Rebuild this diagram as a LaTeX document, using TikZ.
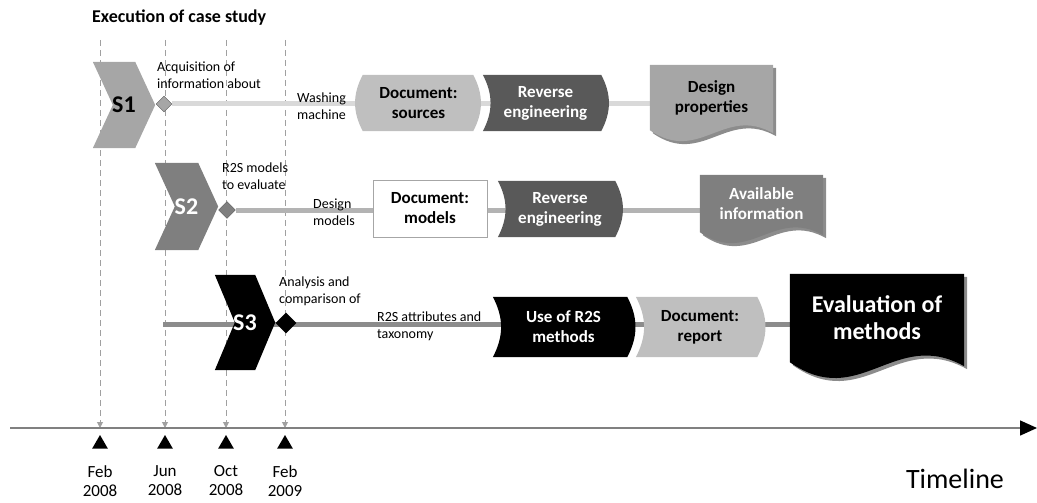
\documentclass[tikz,border=0pt]{standalone}
\usepackage{fontspec}
\setmainfont{Carlito}
\usetikzlibrary{arrows.meta,calc,positioning,shapes.geometric,shadows}
\definecolor{LightG}{HTML}{BFBFBF}
\definecolor{MidG}{HTML}{A6A6A6}
\definecolor{DimG}{HTML}{7F7F7F}
\definecolor{DarkG}{HTML}{595959}
\definecolor{ShadowG}{HTML}{8C8C8C}
\definecolor{RowOne}{HTML}{D9D9D9}
\definecolor{RowTwo}{HTML}{B3B3B3}
\definecolor{RowThree}{HTML}{8C8C8C}
\definecolor{Guide}{HTML}{A0A0A0}
\definecolor{AxisG}{HTML}{808080}
\pgfdeclarelayer{guides}
\pgfdeclarelayer{shapes}
\pgfsetlayers{guides,shapes,main}
\tikzset{
  stage/.style={inner sep=0pt, font=\fontsize{24}{24}\selectfont\bfseries},
  procbox/.style={
    inner sep=0pt, align=center, minimum height=56pt,
    font=\fontsize{17}{20}\selectfont\bfseries
  },
  outcome/.style={inner sep=0pt, align=center, font=\fontsize{17}{20}\selectfont\bfseries},
  milestone/.style={diamond, inner sep=0pt, minimum size=#1},
  note/.style={inner sep=0pt, anchor=north west, align=left, font=\fontsize{14}{16.5}\selectfont},
  datelabel/.style={inner sep=0pt, align=center, font=\fontsize{17}{18.5}\selectfont},
  marker/.style={regular polygon, regular polygon sides=3, fill=black, inner sep=0pt, minimum size=18pt},
  guide/.style={dash pattern=on 6pt off 4pt, draw=Guide, line width=1pt, -{Triangle[length=6pt,width=6pt]}},
  rowline/.style={line width=5pt},
  timeline/.style={draw=AxisG, line width=1.5pt, -{Triangle[length=17pt,width=15pt,color=black]}}
}
\begin{document}
\begin{tikzpicture}[x=1pt,y=-1pt]
  \useasboundingbox (0,0) rectangle (1037,503);
  \node[anchor=west,inner sep=0pt,font=\fontsize{18}{18}\selectfont\bfseries] (title) at (92,18) {Execution of case study};

  % stage 1
  \node[stage,minimum width=62pt,minimum height=86pt] (s1) at (124,105) {S1};
  \node[milestone=16pt,fill=MidG,draw=DarkG] (k1) at (164,104) {};
  \node[note] (n1) at (157,62) {Acquisition of\\information about};
  \node[note] (w1) at (297,93) {Washing\\machine};
  \node[procbox,minimum width=123pt] (src) at (418.5,103) {Document:\\sources};
  \node[procbox,minimum width=125pt,text=white] (re1) at (545.5,103) {Reverse\\engineering};
  \node[outcome,minimum width=123pt,minimum height=65pt] (dp) at (711.5,97.5) {Design\\properties};

  % stage 2
  \node[stage,minimum width=63pt,minimum height=87pt,text=white] (s2) at (186.5,206.5) {S2};
  \node[milestone=17pt,fill=DimG,draw=DarkG] (k2) at (227,210) {};
  \node[note] (n2) at (222,163) {R2S models\\to evaluate};
  \node[note] (w2) at (313,199) {Design\\models};
  \node[procbox,minimum width=114pt,minimum height=57pt,draw=MidG,fill=white] (mod) at (430,208.5) {Document:\\models};
  \node[procbox,minimum width=124pt,text=white] (re2) at (560,209) {Reverse\\engineering};
  \node[outcome,minimum width=123pt,minimum height=57pt,text=white] (ai) at (761.5,203.5) {Available\\information};

  % stage 3
  \coordinate (r3) at (163,324);
  \node[stage,minimum width=60pt,minimum height=95pt,text=white] (s3) at (245,322.5) {S3};
  \node[milestone=21pt,fill=black] (k3) at (286,323) {};
  \node[note] (n3) at (279,277) {Analysis and\\comparison of};
  \node[note] (w3) at (377,312) {R2S attributes and\\taxonomy};
  \node[procbox,minimum width=141pt,minimum height=60pt,text=white] (use) at (563.5,327) {Use of R2S\\methods};
  \node[procbox,minimum width=128pt,minimum height=60pt] (rep) at (700,327) {Document:\\report};
  \node[outcome,minimum width=174pt,minimum height=88pt,text=white,font=\fontsize{24}{27}\selectfont\bfseries] (ev) at (877,318) {Evaluation of\\methods};

  % timeline
  \coordinate (t0) at (10,428);
  \coordinate (t1) at (1037,428);
  \draw[timeline] (t0) -- (t1);
  \node[inner sep=0pt,font=\fontsize{28}{28}\selectfont] (tlabel) at (955,479) {Timeline};
  \foreach \x/\d [count=\i] in {100/{Feb\\2008},165/{Jun\\2008},226/{Oct\\2008},285/{Feb\\2009}} {
    \coordinate (top\i) at (\x,40);
    \coordinate (tick\i) at (\x,428);
    \node[marker] (m\i) at (\x,444) {};
    \node[datelabel,below=17pt of m\i] (d\i) {\d};
  }

  \begin{pgfonlayer}{guides}
    \foreach \i in {1,...,4}
      \draw[guide] (top\i) -- (tick\i);
    \draw[rowline,RowOne] (k1) -- (k1 -| dp.west);
    \draw[rowline,RowTwo] (k2) -- (k2 -| ai.west);
    \draw[rowline,RowThree] (r3) -- (r3 -| ev.west);
  \end{pgfonlayer}

  \begin{pgfonlayer}{shapes}
    \foreach \n/\col in {s1/MidG,s2/DimG,s3/black}
      \fill[\col] (\n.north west) -- ($(\n.north east)+(-20,0)$) -- (\n.east)
        -- ($(\n.south east)+(-20,0)$) -- (\n.south west) -- ($(\n.west)+(20,0)$) -- cycle;
    \fill[LightG] ($(src.north west)+(6,0)$) -- ($(src.north east)+(-7,0)$) to[bend left=28] ($(src.south east)+(-7,0)$)
      -- ($(src.south west)+(6,0)$) to[bend left=28] ($(src.north west)+(6,0)$) -- cycle;
    \foreach \n/\col in {re1/DarkG,re2/DarkG,use/black,rep/LightG}
      \fill[\col] (\n.north west) -- ($(\n.north east)+(-7,0)$) to[bend left=28] ($(\n.south east)+(-7,0)$)
        -- (\n.south west) to[bend right=28] (\n.north west) -- cycle;
    \foreach \n/\col/\dip/\hump/\tail in {dp/MidG/34/25/3,ai/DimG/34/25/3,ev/black/49/35/4}
      \fill[\col,drop shadow={shadow xshift=3pt,shadow yshift=-3pt,fill=ShadowG,opacity=1}]
        (\n.north west) -- (\n.north east) -- ($(\n.south east)+(0,\tail)$)
        .. controls ($(\n.south west)!0.6!(\n.south east)+(0,-\hump)$) and ($(\n.south west)!0.4!(\n.south east)+(0,\dip)$)
        .. (\n.south west) -- cycle;
  \end{pgfonlayer}
\end{tikzpicture}
\end{document}
